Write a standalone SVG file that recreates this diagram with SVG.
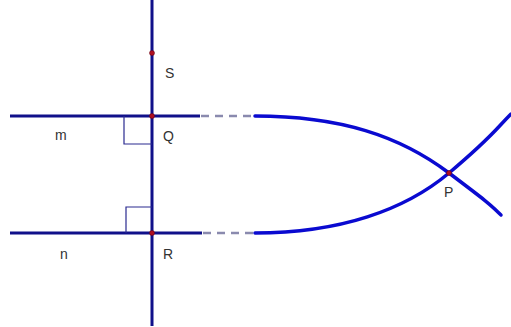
<svg xmlns="http://www.w3.org/2000/svg" width="511" height="327" viewBox="0 0 511 327">
<style>
.line{stroke:#10108a;stroke-width:3;fill:none}
.curve{stroke:#0a0ad0;stroke-width:3.5;fill:none;stroke-linecap:round}
.dash{stroke:#8a8aae;stroke-width:2.5;stroke-dasharray:8 6;fill:none}
.ra{stroke:#2a2a90;stroke-width:1.2;fill:none}
.pt{fill:#b01020;stroke:#600010;stroke-width:0.5}
text{font-family:"Liberation Sans",Arial,sans-serif;font-size:14px;fill:#333}
</style>
<rect width="511" height="327" fill="#ffffff"/>
<g id="connectors">
<line class="line" x1="152" y1="0" x2="152" y2="326"/>
<line id="m" class="line" x1="10" y1="116" x2="200" y2="116"/>
<line id="n" class="line" x1="10" y1="233" x2="202" y2="233"/>
<line class="dash" x1="201" y1="116" x2="255" y2="116"/>
<line class="dash" x1="203" y1="233" x2="255" y2="233"/>
<path class="curve" d="M255,116 C340,116 400,136 449,173 S488,203 501,215"/>
<path class="curve" d="M255,233 C340,233 405,210 449,173 S495,130 511,114"/>
<path class="ra" d="M124,116 V144 H152"/>
<path class="ra" d="M126,233 V207 H152"/>
</g>
<g id="S"><circle class="pt" cx="152" cy="53" r="2.5"/><text x="165" y="78">S</text></g>
<g id="Q"><circle class="pt" cx="152" cy="116" r="2.5"/><text x="163" y="141">Q</text></g>
<g id="R"><circle class="pt" cx="152" cy="233" r="2.5"/><text x="163" y="259">R</text></g>
<g id="P"><circle class="pt" cx="449" cy="173" r="2.5"/><text x="444" y="197">P</text></g>
<g id="label-m"><text x="55" y="140">m</text></g>
<g id="label-n"><text x="60" y="259">n</text></g>
</svg>
